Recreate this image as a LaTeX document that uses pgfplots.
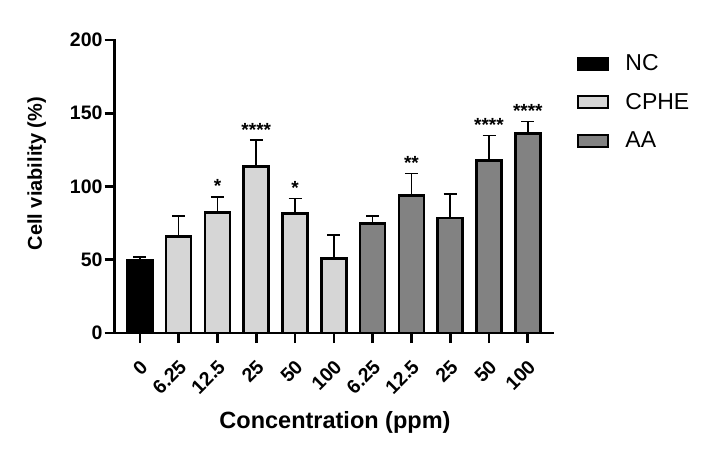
\documentclass[border=0pt]{standalone}
\usepackage{pgfplots}
\pgfplotsset{compat=1.18}
\usepackage{fontspec}
\setmainfont{Liberation Sans}

\definecolor{ncfill}{RGB}{0,0,0}
\definecolor{cphefill}{RGB}{214,214,214}
\definecolor{aafill}{RGB}{130,130,130}

\pgfplotstableread{
x y e
0 49.5 2.5
}\ncdata
\pgfplotstableread{
x y e
1 65.8 13.9
2 82.2 10.8
3 113.7 18.0
4 81.7 10.1
5 50.7 16.3
}\cphedata
\pgfplotstableread{
x y e
6 74.9 5.0
7 94.0 14.9
8 78.5 16.5
9 117.8 16.9
10 136.0 8.3
}\aadata
% significance marks, placed at the top of each error bar
\pgfplotstableread{
x y s
2 93.0 *
3 131.7 ****
4 91.8 *
7 108.9 **
9 134.7 ****
10 144.3 ****
}\sigdata

\pgfplotsset{
  boxlegend/.style={legend image code/.code={
    \draw[##1, line width=2.2pt] (0pt,-6pt) rectangle (30pt,6pt);}},
}

\begin{document}
\begin{tikzpicture}
\begin{axis}[
  at={(0pt,0pt)}, anchor=south west,
  scale only axis,
  width=438.3pt, height=293pt,
  xmin=-0.65, xmax=10.65,
  ymin=0, ymax=200,
  axis lines*=left,
  axis line style={line width=2.8pt, line cap=rect},
  tick align=outside,
  major tick length=10pt,
  every tick/.style={line width=2.6pt, black},
  ytick={0,50,100,150,200},
  xtick={0,1,2,3,4,5,6,7,8,9,10},
  xticklabels={0,6.25,12.5,25,50,100,6.25,12.5,25,50,100},
  /pgf/number format/assume math mode=true,
  yticklabel style={font=\fontsize{19.5}{22}\selectfont\bfseries, inner sep=2pt},
  xticklabel style={font=\fontsize{19.5}{22}\selectfont\bfseries, rotate=45, anchor=east, inner sep=1pt, xshift=-10.5pt, yshift=-17.5pt},
  xlabel={Concentration (ppm)},
  ylabel={Cell viability (\%)},
  xlabel style={font=\fontsize{23.5}{28}\selectfont\bfseries, at={(axis description cs:0.5026,0)}, anchor=base, yshift=-95pt},
  ylabel style={font=\fontsize{20}{24}\selectfont\bfseries, at={(axis description cs:-0.1659,0.544)}, anchor=base},
  clip=false,
  bar width=25pt,
  legend style={draw=none, fill=none, at={(axis description cs:1.0548,0.950)}, anchor=north west,
    font=\fontsize{23}{27}\selectfont, row sep=21pt, inner sep=0pt,
    nodes={inner sep=0pt},
    /tikz/every odd column/.append style={column sep=16pt}},
  legend cell align=left,
  error bars/error bar style={line width=1.6pt, black},
  error bars/error mark options={rotate=90, mark size=6.5pt, line width=1.6pt, black},
]
\addplot[ybar, bar shift=0pt, draw=black, line width=2.6pt, fill=ncfill, boxlegend,
  error bars/.cd, y dir=plus, y explicit]
  table[x=x, y=y, y error=e] {\ncdata};
\addlegendentry{NC}
\addplot[ybar, bar shift=0pt, draw=black, line width=2.6pt, fill=cphefill, boxlegend,
  error bars/.cd, y dir=plus, y explicit]
  table[x=x, y=y, y error=e] {\cphedata};
\addlegendentry{CPHE}
\addplot[ybar, bar shift=0pt, draw=black, line width=2.6pt, fill=aafill, boxlegend,
  error bars/.cd, y dir=plus, y explicit]
  table[x=x, y=y, y error=e] {\aadata};
\addlegendentry{AA}
\addplot[forget plot, draw=none, mark=none,
  nodes near coords, point meta=explicit symbolic,
  every node near coord/.append style={font=\fontsize{19}{20}\selectfont\bfseries, anchor=base, yshift=4pt, inner sep=0pt}]
  table[x=x, y=y, meta=s] {\sigdata};
\end{axis}
\path[use as bounding box] (-114.7pt,-123pt) rectangle (596.3pt,333pt);
\end{tikzpicture}
\end{document}
